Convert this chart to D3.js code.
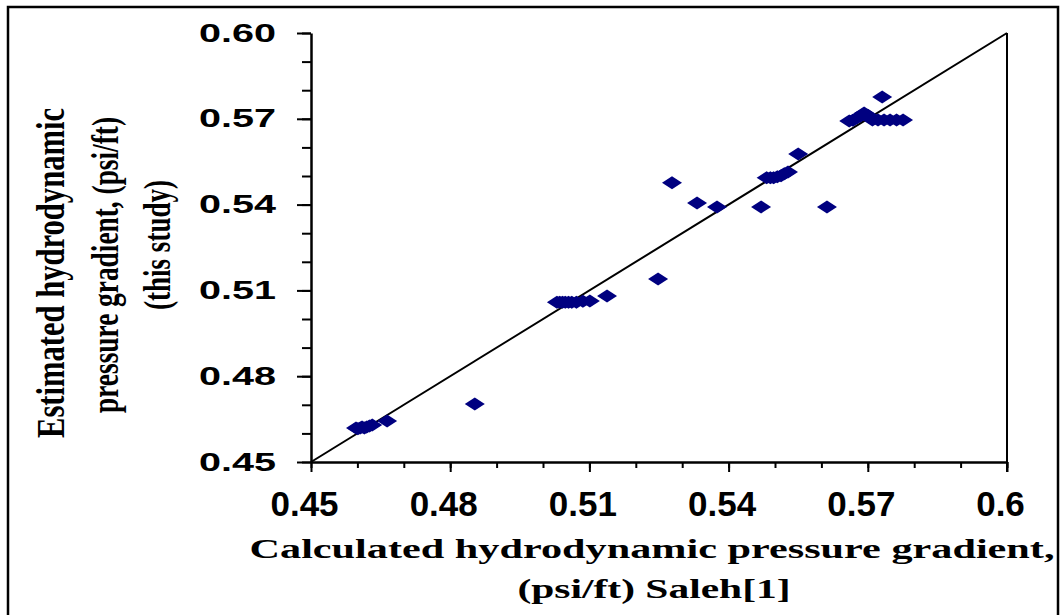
<!DOCTYPE html>
<html>
<head>
<meta charset="utf-8">
<script src="https://cdn.jsdelivr.net/npm/d3@7"></script>
<style>
  body { margin: 0; background: #fff; }
  svg { display: block; }
</style>
</head>
<body>
<script>
const w = 1062
const h = 615
const margin = {top: 33, right: 55, bottom: 153, left: 311}

// Saleh [1] calculated gradient (x) vs. this study estimate (y), psi/ft
const calculated = [
  0.4597, 0.4601, 0.4606, 0.4610, 0.4615, 0.4620, 0.4626, 0.4632, 0.4664,
  0.4853,
  0.5030, 0.5036, 0.5042, 0.5048, 0.5055, 0.5062, 0.5072, 0.5086, 0.5101, 0.5138,
  0.5248, 0.5278, 0.5332, 0.5375, 0.5470, 0.5612,
  0.5482, 0.5490, 0.5497, 0.5505, 0.5513, 0.5520, 0.5528,
  0.5550,
  0.5660, 0.5668, 0.5676, 0.5684, 0.5692, 0.5700, 0.5710, 0.5722, 0.5735, 0.5748, 0.5762, 0.5776,
  0.5731
]
const estimated = [
  0.4619, 0.4616, 0.4619, 0.4622, 0.4619, 0.4622, 0.4626, 0.4629, 0.4643,
  0.4703,
  0.5059, 0.5059, 0.5059, 0.5059, 0.5059, 0.5059, 0.5059, 0.5062, 0.5063, 0.5080,
  0.5140, 0.5476, 0.5406, 0.5392, 0.5392, 0.5392,
  0.5494, 0.5494, 0.5494, 0.5497, 0.5501, 0.5508, 0.5514,
  0.5577,
  0.5692, 0.5695, 0.5703, 0.5710, 0.5720, 0.5712, 0.5696, 0.5696, 0.5696, 0.5696, 0.5696, 0.5696,
  0.5776
]

const xTicks = [0.45, 0.48, 0.51, 0.54, 0.57, 0.6]
const yTicks = [0.45, 0.48, 0.51, 0.54, 0.57, 0.60]
const minorTicks = d3.range(0, 16).map(i => 0.45 + i * 0.01)
const xTitle = ['Calculated hydrodynamic pressure gradient,', '(psi/ft) Saleh[1]']
const yTitle = ['Estimated hydrodynamic', 'pressure gradient, (psi/ft)', '(this study)']

const points = calculated.map((c, i) => ({x: c, y: estimated[i]}))

const xScale = d3.scaleLinear()
  .domain([0.45, 0.60])
  .range([margin.left, w - margin.right])

const yScale = d3.scaleLinear()
  .domain([0.45, 0.60])
  .range([h - margin.bottom, margin.top])

const svg = d3.select('body').append('svg')
  .attr('width', w)
  .attr('height', h)

// outer frame
svg.append('rect')
  .attr('x', 8).attr('y', 7)
  .attr('width', 1050).attr('height', 640)
  .attr('fill', 'none')
  .attr('stroke', '#000')
  .attr('stroke-width', 2.5)

// right edge of plot area
svg.append('line')
  .attr('x1', xScale(0.60)).attr('x2', xScale(0.60))
  .attr('y1', yScale(0.60)).attr('y2', yScale(0.45) + 10)
  .attr('stroke', '#000')
  .attr('stroke-width', 2)

// minor ticks
const yMinor = d3.axisLeft(yScale).tickValues(minorTicks).tickSize(9).tickFormat('')
const xMinor = d3.axisBottom(xScale).tickValues(minorTicks).tickSize(6).tickFormat('')

svg.append('g')
  .attr('transform', `translate(${margin.left},0)`)
  .call(yMinor)
  .call(g => g.select('.domain').remove())
  .selectAll('line').attr('stroke-width', 2)

svg.append('g')
  .attr('transform', `translate(0,${h - margin.bottom})`)
  .call(xMinor)
  .call(g => g.select('.domain').remove())
  .selectAll('line').attr('stroke-width', 2)

// major axes
const yAxisGen = d3.axisLeft(yScale).tickValues(yTicks).tickSize(14).tickSizeOuter(0)
  .tickFormat(d3.format('.2f'))
const xAxisGen = d3.axisBottom(xScale).tickValues(xTicks).tickSize(10).tickSizeOuter(0)
  .tickFormat(d => d === 0.6 ? '0.6' : d3.format('.2f')(d))

const yAxis = svg.append('g')
  .attr('transform', `translate(${margin.left},0)`)
  .call(yAxisGen)
yAxis.select('.domain').attr('stroke-width', 2.5)
yAxis.selectAll('line').attr('stroke-width', 2)
yAxis.selectAll('text')
  .attr('x', -35)
  .attr('font-family', 'Liberation Sans, Arial, sans-serif')
  .attr('font-weight', 'bold')
  .attr('font-size', 25)
  .attr('textLength', 77)
  .attr('lengthAdjust', 'spacingAndGlyphs')
  .attr('fill', '#000')

const xAxis = svg.append('g')
  .attr('transform', `translate(0,${h - margin.bottom})`)
  .call(xAxisGen)
xAxis.select('.domain').attr('stroke-width', 2.5)
xAxis.selectAll('line').attr('stroke-width', 2)
xAxis.selectAll('text')
  .attr('y', 29)
  .attr('dx', -7)
  .attr('font-family', 'Liberation Sans, Arial, sans-serif')
  .attr('font-weight', 'bold')
  .attr('font-size', 35)
  .attr('fill', '#000')

// 1:1 line
const lineFun = d3.line()
  .x(d => xScale(d))
  .y(d => yScale(d))

svg.append('path')
  .attr('d', lineFun([0.45, 0.60]))
  .attr('stroke', '#000')
  .attr('stroke-width', 2)
  .attr('fill', 'none')

// diamond markers
svg.append('g').selectAll('path')
  .data(points)
  .join('path')
  .attr('d', 'M-10,0L0,-6.5L10,0L0,6.5Z')
  .attr('transform', d => `translate(${xScale(d.x)},${yScale(d.y)})`)
  .attr('fill', '#000080')

// axis titles
svg.append('g').selectAll('text')
  .data(xTitle)
  .join('text')
  .attr('x', (d, i) => i === 0 ? 652 : 654)
  .attr('y', (d, i) => 558 + i * 40)
  .attr('text-anchor', 'middle')
  .attr('font-family', 'Liberation Serif, Times New Roman, serif')
  .attr('font-weight', 'bold')
  .attr('font-size', 28)
  .attr('textLength', (d, i) => i === 0 ? 805 : 273)
  .attr('lengthAdjust', 'spacingAndGlyphs')
  .text(d => d)

const yTitleBase = [64, 118, 170]
const yTitleCenter = [273, 265, 245]
const yTitleLen = [330, 296, 130]

svg.append('g').selectAll('text')
  .data(yTitle)
  .join('text')
  .attr('transform', (d, i) => `translate(${yTitleBase[i]},${yTitleCenter[i]}) rotate(-90)`)
  .attr('text-anchor', 'middle')
  .attr('font-family', 'Liberation Serif, Times New Roman, serif')
  .attr('font-weight', 'bold')
  .attr('font-size', (d, i) => i === 0 ? 39 : 38)
  .attr('textLength', (d, i) => yTitleLen[i])
  .attr('lengthAdjust', 'spacingAndGlyphs')
  .text(d => d)
</script>
</body>
</html>
